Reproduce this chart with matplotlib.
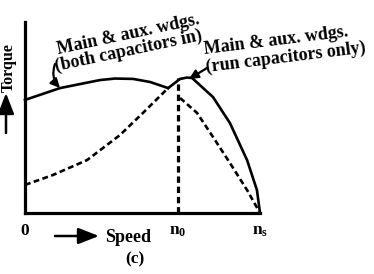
import matplotlib
matplotlib.use('Agg')
import matplotlib.pyplot as plt
from matplotlib.patches import FancyArrowPatch

# torque/speed curves (speed: 0 -> n_s = 1, torque in axis fractions)
both_speed = [0.0, 0.149, 0.319, 0.383, 0.460, 0.532, 0.609, 0.660, 0.732, 0.800, 0.872, 0.945, 1.0]
both_torque = [0.592, 0.654, 0.696, 0.704, 0.702, 0.686, 0.654, 0.602, 0.524, 0.398, 0.262, 0.120, 0.0]
run_speed = [0.0, 0.119, 0.264, 0.404, 0.502, 0.609, 0.660, 0.689, 0.711, 0.800, 0.872, 0.945, 0.987, 1.0]
run_torque = [0.147, 0.199, 0.277, 0.408, 0.524, 0.654, 0.702, 0.709, 0.707, 0.607, 0.471, 0.277, 0.120, 0.0]
cross_both = 6   # index where the two curves meet
cross_run = 5
n0_speed = 0.651
n0_torque = 0.709

tick_pos = [0.0, n0_speed, 1.0]
tick_labels = ['0', r'$\mathbf{n_0}$', r'$\mathbf{n_s}$']

W, H = 374, 274
plt.rcParams['font.family'] = ['Liberation Serif', 'DejaVu Serif']
plt.rcParams['font.weight'] = 'bold'
plt.rcParams['mathtext.fontset'] = 'custom'
plt.rcParams['mathtext.bf'] = 'Liberation Serif:bold'
plt.rcParams['mathtext.rm'] = 'Liberation Serif:bold'
plt.rcParams['mathtext.it'] = 'Liberation Serif:bold'

fig = plt.figure(figsize=(W / 100, H / 100), dpi=100)


def px(x, y):
    # pixel position (top-left origin) -> figure fraction
    return x / W, 1 - y / H


def label(x, y, s, **kw):
    kw.setdefault('fontsize', 13)
    return fig.text(*px(x, y), s, fontweight='bold', **kw)


def arrow(p0, p1, **kw):
    fig.add_artist(FancyArrowPatch(px(*p0), px(*p1), transform=fig.transFigure,
                                   shrinkA=0, shrinkB=0, color='black', **kw))


ax = fig.add_axes([25 / W, 1 - 213 / H, 235 / W, 191 / H])
ax.set_xlim(0, 1)
ax.set_ylim(0, 1)
for s in ['top', 'right']:
    ax.spines[s].set_visible(False)
for s in ['left', 'bottom']:
    ax.spines[s].set_linewidth(2.3)
ax.set_xticks([])
ax.set_yticks([])

lw = 1.9
dash = (0, (2.2, 1.3))
# both capacitors in: solid until crossing, then dashed
ax.plot(both_speed[:cross_both + 1], both_torque[:cross_both + 1], color='black', lw=lw, clip_on=False)
ax.plot(both_speed[cross_both + 1:], both_torque[cross_both + 1:], color='black', lw=lw, ls=dash, clip_on=False)
# run capacitors only: dashed until crossing, then solid
ax.plot(run_speed[:cross_run + 1], run_torque[:cross_run + 1], color='black', lw=lw, ls=dash, clip_on=False)
ax.plot(run_speed[cross_run:], run_torque[cross_run:], color='black', lw=lw, clip_on=False)
# n0 marker
ax.plot([n0_speed, n0_speed], [0, n0_torque], color='black', lw=2.3, ls=(0, (2.0, 1.2)), clip_on=False)

for xp, lab in zip(tick_pos, tick_labels):
    ax.text(xp, -0.05, lab, ha='center', va='top', fontsize=12.5, fontweight='bold')

# axis labels with arrows
label(9, 68, 'Torque', rotation=90, ha='center', va='center', fontsize=11.5)
arrow((6, 133), (6, 93), arrowstyle='-|>,head_length=0.9,head_width=0.35', mutation_scale=14, lw=1.8)
label(128, 237, 'Speed', ha='center', va='center')
arrow((55, 236), (99, 236), arrowstyle='-|>,head_length=0.9,head_width=0.35', mutation_scale=14, lw=1.8)
label(135, 259, '(c)', ha='center', va='center', fontsize=12.5)

# curve labels
label(58, 54, 'Main & aux. wdgs.', rotation=12, rotation_mode='anchor', ha='left', va='baseline')
label(56, 71, '(both capacitors in)', rotation=12, rotation_mode='anchor', ha='left', va='baseline')
label(205, 54, 'Main & aux. wdgs.', rotation=7, rotation_mode='anchor', ha='left', va='baseline')
label(207, 72, '(run capacitors only)', rotation=7, rotation_mode='anchor', ha='left', va='baseline')

arrow((55, 64), (60, 88), connectionstyle='arc3,rad=0.3',
      arrowstyle='-|>,head_length=0.45,head_width=0.22', mutation_scale=12, lw=1.6)
arrow((207, 68), (189, 79), arrowstyle='-|>,head_length=0.45,head_width=0.22', mutation_scale=12, lw=1.6)

fig.savefig('out.png', dpi=100)
